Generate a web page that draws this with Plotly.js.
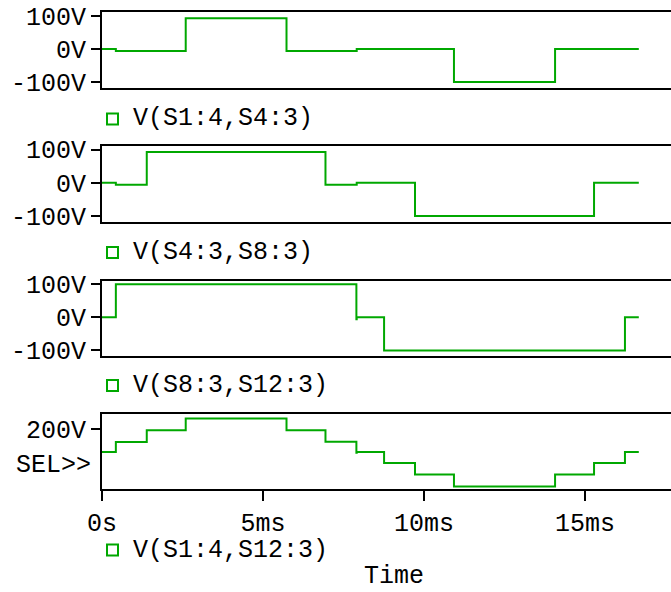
<!DOCTYPE html>
<html>
<head>
<meta charset="utf-8">
<script src="https://cdn.plot.ly/plotly-3.0.1.min.js"></script>
<style>html,body{margin:0;padding:0;background:#fff;}#chart{width:671px;height:592px;}</style>
</head>
<body>
<div id="chart"></div>
<script>
// ---- data (time in ms, voltage in V) ----
const t1 = [0, 0.43, 2.60, 5.73, 7.91, 10.93, 14.07, 16.67];
const v1 = [0, -6, 93, -6, 0, -100, 0, 0];
const t2 = [0, 0.43, 1.39, 6.94, 7.91, 9.72, 15.28, 16.67];
const v2 = [0, -6, 93, -6, 0, -100, 0, 0];
const t3 = [0, 0.43, 7.90, 7.91, 8.76, 16.24, 16.67];
const v3 = [0, 100, -6, 0, -100, 0, 0];
const t4 = [0, 0.43, 1.39, 2.60, 5.73, 6.94, 7.90, 7.91, 8.76, 9.72, 10.93, 14.07, 15.28, 16.24, 16.67];
const v4 = [0, 88, 190, 295, 190, 90, -6, 0, -97, -198, -302, -198, -97, 0, 0];
const seriesNames = ['V(S1:4,S4:3)', 'V(S4:3,S8:3)', 'V(S8:3,S12:3)', 'V(S1:4,S12:3)'];
const yTickVals = [-100, 0, 100];
const yTickText = ['-100V', '0V', '100V'];
const y4TickVals = [200];
const y4TickText = ['200V'];
const xTickVals = [0, 5, 10, 15];
const xTickText = ['0s', '5ms', '10ms', '15ms'];

// ---- layout helpers ----
const W = 671, H = 592;
const FONT = '"Courier New", Courier, "Liberation Mono", monospace';
const GREEN = '#00a800';
const px = x => x / W;
const py = y => 1 - y / H;
const tops = [12.3, 146, 280.7, 414.3];
const bots = [87.7, 221.7, 356, 489.3];
const legY = [119, 252.5, 385.5, 550];
const xs = [t1, t2, t3, t4];
const vs = [v1, v2, v3, v4];

const data = xs.map((t, i) => ({
  x: t, y: vs[i], type: 'scatter', mode: 'lines',
  line: {shape: 'hv', color: GREEN, width: 2},
  xaxis: 'x' + (i + 1), yaxis: 'y' + (i + 1), showlegend: false, hoverinfo: 'skip'
}));

const layout = {
  width: W, height: H,
  margin: {l: 0, r: 0, t: 0, b: 0, pad: 0},
  paper_bgcolor: '#fff', plot_bgcolor: '#fff',
  font: {family: FONT, size: 25, color: '#000'},
  showlegend: false,
  shapes: [], annotations: []
};

for (let i = 0; i < 4; i++) {
  const k = i + 1;
  const last = i === 3;
  layout['xaxis' + k] = {
    domain: [px(102), 1], range: [0, 17.67], anchor: 'y' + k,
    showline: true, mirror: true, linecolor: '#000', linewidth: 2,
    showgrid: false, zeroline: false,
    ticks: last ? 'outside' : '', ticklen: 10, tickwidth: 2, tickcolor: '#000',
    tickvals: xTickVals, ticktext: xTickText, showticklabels: last,
    tickfont: {family: FONT, size: 25, color: '#000'},
    ticklabelstandoff: 0, fixedrange: true
  };
  layout['yaxis' + k] = {
    domain: [py(bots[i]), py(tops[i])],
    range: last ? [-327, 331] : [-117, 111], anchor: 'x' + k,
    showline: true, mirror: false, linecolor: '#000', linewidth: 2,
    showgrid: false, zeroline: false,
    ticks: 'outside', ticklen: 9, tickwidth: 2, tickcolor: '#000',
    tickvals: last ? y4TickVals : yTickVals, ticktext: last ? y4TickText : yTickText,
    tickfont: {family: FONT, size: 25, color: '#000'}, fixedrange: true
  };
  // legend marker + text under each panel
  layout.shapes.push({
    type: 'rect', xref: 'paper', yref: 'paper',
    x0: px(107), x1: px(118), y0: py(legY[i] + 5.5), y1: py(legY[i] - 5.5),
    line: {color: GREEN, width: 2}, fillcolor: '#fff'
  });
  layout.annotations.push({
    xref: 'paper', yref: 'paper', x: px(131), y: py(legY[i]),
    xanchor: 'left', yanchor: 'middle', showarrow: false,
    text: seriesNames[i], font: {family: FONT, size: 25, color: '#000'}
  });
}
layout.annotations.push({
  xref: 'paper', yref: 'paper', x: px(93), y: py(465),
  xanchor: 'right', yanchor: 'middle', showarrow: false,
  text: 'SEL&gt;&gt;', font: {family: FONT, size: 25, color: '#000'}
});
layout.annotations.push({
  xref: 'paper', yref: 'paper', x: px(394), y: py(576),
  xanchor: 'center', yanchor: 'middle', showarrow: false,
  text: 'Time', font: {family: FONT, size: 25, color: '#000'}
});

Plotly.newPlot('chart', data, layout, {staticPlot: true, displayModeBar: false});
</script>
</body>
</html>
